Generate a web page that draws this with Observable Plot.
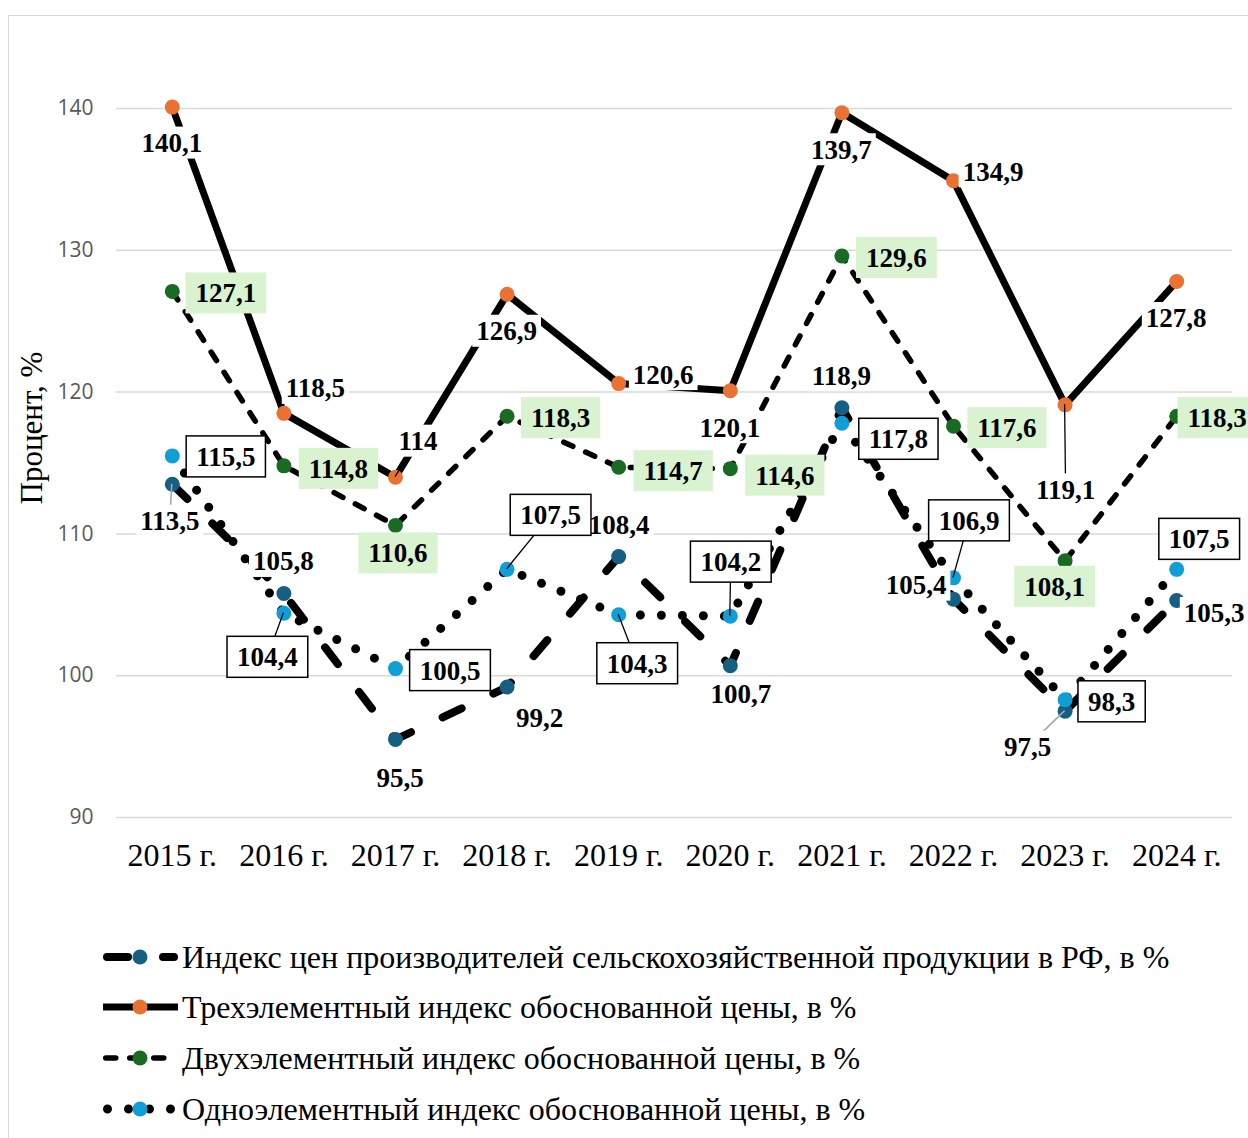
<!DOCTYPE html>
<html>
<head>
<meta charset="utf-8">
<script src="https://cdn.jsdelivr.net/npm/d3@7"></script>
<script src="https://cdn.jsdelivr.net/npm/@observablehq/plot@0.6"></script>
<style>
  html, body { margin: 0; padding: 0; background: #fff; }
  body { width: 1248px; height: 1138px; position: relative; overflow: hidden; }
  #frame { position: absolute; left: 8px; top: 15px; width: 1400px; height: 1400px; border: 1.5px solid #d9d9d9; box-sizing: border-box; }
  #chart { position: absolute; left: 0; top: 0; }
  #ytitle { position: absolute; left: 31px; top: 428px; width: 0; height: 0; }
  #ytitle div { position: absolute; transform: translate(-50%, -50%) rotate(-90deg); white-space: nowrap;
    font-family: "Liberation Serif", "Times New Roman", serif; font-size: 31px; color: #000; line-height: 1; }
  #legend { position: absolute; left: 0; top: 900px; width: 1248px; height: 238px; }
  .row { position: absolute; left: 100px; height: 40px; display: flex; align-items: center; }
  .row svg { display: block; }
  .row span { font-family: "Liberation Serif", "Times New Roman", serif; font-size: 32px; color: #000; white-space: nowrap; }
</style>
</head>
<body>
<div id="frame"></div>
<div id="chart"></div>
<div id="ytitle"><div>Процент, %</div></div>
<div id="legend"></div>
<script>
// ---------- data ----------
const years = ["2015 г.", "2016 г.", "2017 г.", "2018 г.", "2019 г.", "2020 г.", "2021 г.", "2022 г.", "2023 г.", "2024 г."];
const seriesNames = [
  "Индекс цен производителей сельскохозяйственной продукции в РФ, в %",
  "Трехэлементный индекс обоснованной цены, в %",
  "Двухэлементный индекс обоснованной цены, в %",
  "Одноэлементный индекс обоснованной цены, в %"
];
const producerIndex = [113.5, 105.8, 95.5, 99.2, 108.4, 100.7, 118.9, 105.4, 97.5, 105.3];
const threeElement  = [140.1, 118.5, 114, 126.9, 120.6, 120.1, 139.7, 134.9, 119.1, 127.8];
const twoElement    = [127.1, 114.8, 110.6, 118.3, 114.7, 114.6, 129.6, 117.6, 108.1, 118.3];
const oneElement    = [115.5, 104.4, 100.5, 107.5, 104.3, 104.2, 117.8, 106.9, 98.3, 107.5];
const yTicks = [90, 100, 110, 120, 130, 140];

// ---------- layout of data labels (pixel offsets from point) ----------
const offProducer = [[-2,37],[0,-32],[5,39],[33,31],[1,-32],[11,28],[0,-32],[-37,-14],[-37,36],[38,13]];
const offThree    = [[0,36],[32,-25],[23,-36],[0,37],[45,-9],[0,37],[0,37],[40,-9],[1,85],[0,37]];
const offTwo      = [[54,2],[55,3],[3,28],[54,2],[55,4],[55,7],[55,2],[54,2],[-10,26],[41,2]];
const offOne      = [[54,1],[-16,44],[55,2],[44,-54],[19,49],[1,-54],[57,16],[16,-57],[47,2],[23,-30]];
const leadProducer = [0, 8];
const leadThree = [2, 8];
const leadOne = [1, 3, 4, 5, 7];

// ---------- styles ----------
const styles = [
  {color: "#156082", width: 8,   dash: "21,35", cap: "round"},
  {color: "#E97132", width: 7,   dash: null,    cap: "butt"},
  {color: "#196B24", width: 5.5, dash: "10,14", cap: "round"},
  {color: "#0F9ED5", width: 9,   dash: "0,21",  cap: "round"}
];
const allValues = [producerIndex, threeElement, twoElement, oneElement];

const rows = allValues.map((vals, s) => vals.map((v, i) => ({year: years[i], value: v, s})));

const fmt = v => String(v).replace(".", ",");
const labelRows = [];
const labelSpec = [
  {vals: producerIndex, off: offProducer, lead: leadProducer, kind: "plain", leadColor: "#a6a6a6"},
  {vals: threeElement,  off: offThree,    lead: leadThree,    kind: "plain", leadColor: "#000"},
  {vals: twoElement,    off: offTwo,      lead: [],           kind: "green", leadColor: "#000"},
  {vals: oneElement,    off: offOne,      lead: leadOne,      kind: "boxed", leadColor: "#000"}
];
labelSpec.forEach(spec => spec.vals.forEach((v, i) => labelRows.push({
  year: years[i], value: v, label: fmt(v), dx: spec.off[i][0], dy: spec.off[i][1],
  kind: spec.kind, leader: spec.lead.includes(i) ? spec.leadColor : null
})));

const canvas = document.createElement("canvas");
const ctx = canvas.getContext("2d");
ctx.font = "bold 27px 'Liberation Serif'";

function renderLabels(index, scales, values) {
  const g = d3.create("svg:g");
  const pos = i => {
    const d = labelRows[i];
    const px = values && values.x ? values.x[i] : scales.x(d.year);
    const py = values && values.y ? values.y[i] : scales.y(d.value);
    return [px, py, px + d.dx, py + d.dy];
  };
  for (const i of index) {
    const d = labelRows[i];
    if (!d.leader) continue;
    const [px, py, lx, ly] = pos(i);
    g.append("line").attr("x1", px).attr("y1", py).attr("x2", lx).attr("y2", ly)
      .attr("stroke", d.leader).attr("stroke-width", d.leader === "#000" ? 1.3 : 1.6);
  }
  for (const i of index) {
    const d = labelRows[i];
    const [, , lx, ly] = pos(i);
    const tw = ctx.measureText(d.label).width;
    let w, h, fill, stroke;
    if (d.kind === "plain") { w = tw + 8; h = 32; fill = "#fff"; stroke = "none"; }
    else if (d.kind === "green") { w = tw + 20; h = 41; fill = "#D9F2D0"; stroke = "none"; }
    else { w = tw + 20; h = 41; fill = "#fff"; stroke = "#000"; }
    g.append("rect").attr("x", lx - w / 2).attr("y", ly - h / 2).attr("width", w).attr("height", h)
      .attr("fill", fill).attr("stroke", stroke).attr("stroke-width", 1.5);
    g.append("text").attr("x", lx).attr("y", ly).attr("dy", "0.35em")
      .attr("text-anchor", "middle").attr("font-family", "Liberation Serif")
      .attr("font-weight", "bold").attr("font-size", 27).attr("fill", "#000").text(d.label);
  }
  return g.node();
}

const seriesMarks = rows.flatMap((data, s) => [
  Plot.lineY(data, {x: "year", y: "value", stroke: "#000", strokeWidth: styles[s].width,
    strokeDasharray: styles[s].dash || undefined, strokeLinecap: styles[s].cap, strokeLinejoin: "round"}),
  Plot.dot(data, {x: "year", y: "value", r: 7.5, fill: styles[s].color, stroke: "none"})
]);

const chart = Plot.plot({
  width: 1248, height: 900,
  marginLeft: 116, marginRight: 16, marginTop: 108, marginBottom: 83,
  x: {type: "point", domain: years, padding: 0.5, round: false, label: null},
  y: {domain: [90, 140], label: null},
  style: {fontFamily: "Liberation Serif", background: "transparent", overflow: "visible"},
  marks: [
    Plot.gridY(yTicks, {stroke: "#d9d9d9", strokeOpacity: 1, strokeWidth: 1.5}),
    Plot.axisY(yTicks, {tickSize: 0, tickPadding: 23, fontSize: 21, fontFamily: "Open Sans", fill: "#595959", label: null}),
    Plot.axisX({tickSize: 0, tickPadding: 26, fontSize: 32, fontFamily: "Liberation Serif", fill: "#000", label: null}),
    ...seriesMarks,
    Plot.text(labelRows, {x: "year", y: "value", text: "label", render: renderLabels})
  ]
});
document.getElementById("chart").appendChild(chart);

// ---------- legend ----------
const legend = d3.select("#legend");
const rowCenters = [57, 107, 158, 209];
seriesNames.forEach((name, s) => {
  const row = legend.append("div").attr("class", "row").style("top", (rowCenters[s] - 20) + "px");
  const svg = row.append("svg").attr("width", 82).attr("height", 40);
  const st = styles[s];
  const inset = st.cap === "round" ? st.width / 2 : 0;
  svg.append("line").attr("x1", 3 + inset).attr("x2", 78 - inset).attr("y1", 20).attr("y2", 20)
    .attr("stroke", "#000").attr("stroke-width", st.width)
    .attr("stroke-dasharray", st.dash).attr("stroke-linecap", st.cap);
  svg.append("circle").attr("cx", 40).attr("cy", 20).attr("r", 7.5).attr("fill", st.color);
  row.append("span").text(name);
});
</script>
</body>
</html>
